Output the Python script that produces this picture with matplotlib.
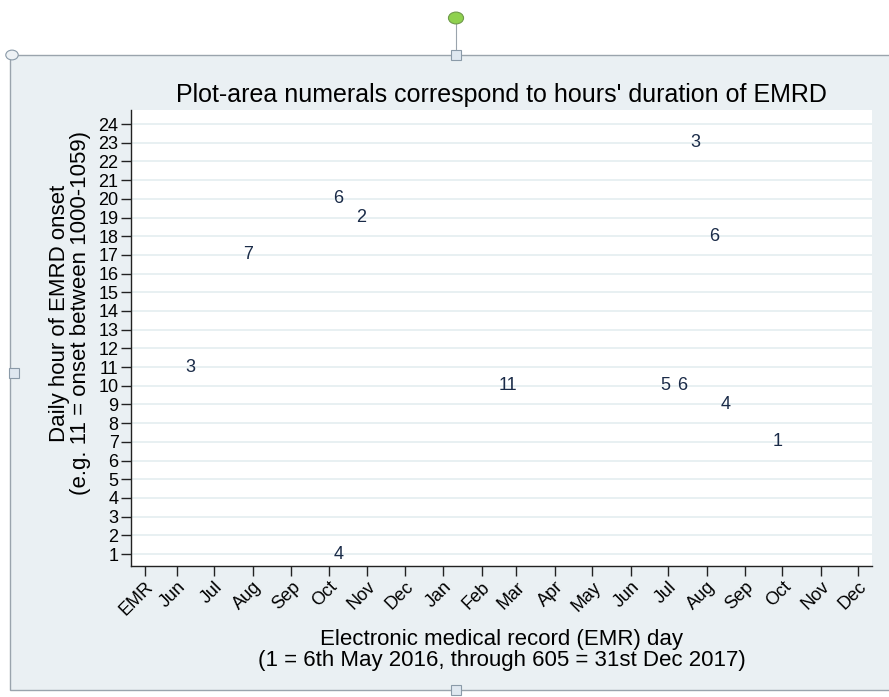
import matplotlib
matplotlib.use("Agg")
import matplotlib.pyplot as plt
from matplotlib.patches import Rectangle, Circle
from matplotlib.lines import Line2D

plt.rcParams['font.family'] = ['Liberation Sans', 'DejaVu Sans']

# EMRD episodes: EMR day, onset hour, duration in hours
days = [38, 84, 157, 175, 157, 293, 420, 433, 444, 459, 468, 510]
hours = [11, 17, 20, 19, 1, 10, 10, 10, 23, 18, 9, 7]
durations = [3, 7, 6, 2, 4, 11, 5, 6, 3, 6, 4, 1]

# month ticks (EMR day of the 1st of each month)
tick_days = [1, 27, 57, 88, 119, 149, 180, 210, 241, 272, 300, 331,
             361, 392, 422, 453, 484, 514, 545, 575]
tick_labels = ['EMR', 'Jun', 'Jul', 'Aug', 'Sep', 'Oct', 'Nov', 'Dec', 'Jan',
               'Feb', 'Mar', 'Apr', 'May', 'Jun', 'Jul', 'Aug', 'Sep', 'Oct',
               'Nov', 'Dec']
hour_ticks = list(range(1, 25))

W, H = 889, 697
fig = plt.figure(figsize=(W / 100, H / 100), dpi=100)
fig.patch.set_facecolor('white')

# graph region (light blue-grey box with selection handles)
bg = '#eaf0f3'
fig.patches.append(Rectangle((10 / W, 1 - 690 / H), 1, (690 - 55) / H,
                             transform=fig.transFigure, facecolor=bg,
                             edgecolor='#9aa4ad', lw=1.0, zorder=-5))
fig.lines.append(Line2D([456 / W, 456 / W], [1 - 55 / H, 1 - 22 / H],
                        transform=fig.transFigure, color='#9aa4ad', lw=0.8,
                        zorder=-4))
fig.patches.append(Circle((456 / W, 1 - 18 / H), 0.0085,
                          transform=fig.transFigure, facecolor='#8fd14f',
                          edgecolor='#6f9a4a', lw=0.8, zorder=-4))
for hx, hy in [(456, 55), (14, 373), (456, 690)]:
    fig.patches.append(Rectangle(((hx - 5) / W, 1 - (hy + 5) / H), 10 / W, 10 / H,
                                 transform=fig.transFigure, facecolor='#dfe8f0',
                                 edgecolor='#8a9aa8', lw=0.8, zorder=-4))
fig.patches.append(Circle((12 / W, 1 - 55 / H), 0.007,
                          transform=fig.transFigure, facecolor='#eef2f5',
                          edgecolor='#8a9aa8', lw=0.8, zorder=-4))

ax = fig.add_axes([131 / W, 1 - 566 / H, (872 - 131) / W, (566 - 110) / H])
ax.set_zorder(2)
ax.set_facecolor('white')

for d, h, dur in zip(days, hours, durations):
    ax.text(d, h, str(dur), ha='center', va='center', fontsize=13,
            color='#1a2b48')

ax.set_xlim(-10, 586)
ax.set_ylim(0.36, 24.75)
ax.set_xticks(tick_days)
ax.set_xticklabels(tick_labels, rotation=45, ha='right', rotation_mode='anchor',
                   fontsize=13)
ax.set_yticks(hour_ticks)
ax.set_yticklabels([str(h) for h in hour_ticks], fontsize=13)
ax.tick_params(axis='both', length=7, width=1, color='#222222', pad=2)
ax.grid(axis='y', color='#e4edf0', lw=1.2)
ax.set_axisbelow(True)
for s in ['top', 'right']:
    ax.spines[s].set_visible(False)
for s in ['left', 'bottom']:
    ax.spines[s].set_color('#222222')
    ax.spines[s].set_linewidth(1.0)

ax.set_title("Plot-area numerals correspond to hours' duration of EMRD",
             fontsize=18, pad=6)
ax.set_xlabel("Electronic medical record (EMR) day\n"
              "(1 = 6th May 2016, through 605 = 31st Dec 2017)",
              fontsize=16, labelpad=7, linespacing=1.0)
ax.set_ylabel("Daily hour of EMRD onset\n(e.g. 11 = onset between 1000-1059)",
              fontsize=16, labelpad=5, linespacing=1.0)
ax.yaxis.label.set_y(0.555)

fig.savefig('out.png', dpi=100)
